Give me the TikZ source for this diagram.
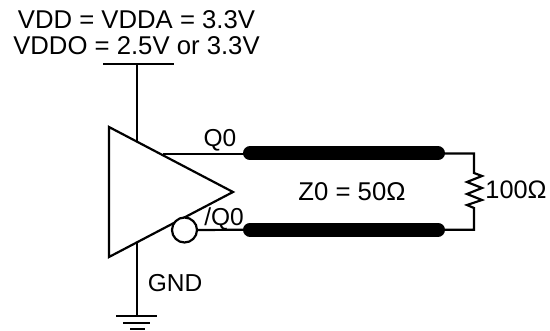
\documentclass[tikz,border=0pt]{standalone}
\usepackage{fontspec}
\setmainfont{Liberation Sans}
\tikzset{
  wire/.style={line width=2.2pt,black},
  tline/.style={line width=14pt,line cap=round,black},
  lbl/.style={font=\fontsize{24.5}{28}\selectfont,inner sep=0pt,anchor=base},
  biglbl/.style={font=\fontsize{25.7}{30}\selectfont,inner sep=0pt,anchor=base},
}
\begin{document}
\begin{tikzpicture}[x=1pt,y=-1pt]
\useasboundingbox (0,0) rectangle (550,331);
% supply and ground
\coordinate (barL) at (103,64); \coordinate (barR) at (174,64); \coordinate (vtop) at (137,64);
\coordinate (vin) at (137,141);
\coordinate (gin) at (137,243); \coordinate (gnd) at (137,316);
\coordinate (g1L) at (116,316); \coordinate (g1R) at (157,316);
\coordinate (g2L) at (123,323); \coordinate (g2R) at (150,323);
\coordinate (g3L) at (130,329); \coordinate (g3R) at (145,329);
\draw[wire] (barL) -- (barR);
\draw[wire] (vtop) -- (vin);
\draw[wire] (gin) -- (gnd);
\draw[wire] (g1L) -- (g1R);
\draw[wire] (g2L) -- (g2R);
\draw[wire] (g3L) -- (g3R);
% buffer
\coordinate (t1) at (109,127); \coordinate (t2) at (233,192); \coordinate (t3) at (109,257);
\draw[wire,line join=miter] (t1) -- (t2) -- (t3) -- cycle;
\node[draw,circle,line width=2.2pt,minimum size=25pt,inner sep=0pt,fill=white] (bub) at (184.5,230) {};
% transmission lines
\coordinate (q0s) at (163,154); \coordinate (a1) at (250,153.3); \coordinate (a2) at (438,153.3);
\coordinate (b1) at (250,229.7); \coordinate (b2) at (438,229.7);
\coordinate (c1) at (474,153.5); \coordinate (c2) at (474,229.7);
\coordinate (r1) at (474,173); \coordinate (r2) at (474,208);
\draw[wire] (q0s) -- (a1 |- q0s);
\draw[wire] (bub.east) -- (b1);
\draw[tline] (a1) -- (a2);
\draw[tline] (b1) -- (b2);
\draw[wire,line join=miter] (a2 |- c1) -- (c1) -- (r1) -- (482,176) -- (467,182) -- (482,188) -- (467,194) -- (482,200) -- (467,205) -- (r2) -- (c2) -- (b2);
% labels
\node[biglbl] (l1) at (136.5,28.5) {VDD = VDDA = 3.3V};
\node[biglbl] (l2) at (136.5,55) {VDDO = 2.5V or 3.3V};
\node[lbl] (l3) at (220,147) {Q0};
\node[lbl] (l4) at (224,226) {/Q0};
\node[lbl] (l5) at (175,292) {GND};
\node[biglbl] (l6) at (352,201) {Z0 = 50\symbol{"03A9}};
\node[lbl,font=\fontsize{25.3}{30}\selectfont] (l7) at (516,199) {100\symbol{"03A9}};
\end{tikzpicture}
\end{document}
